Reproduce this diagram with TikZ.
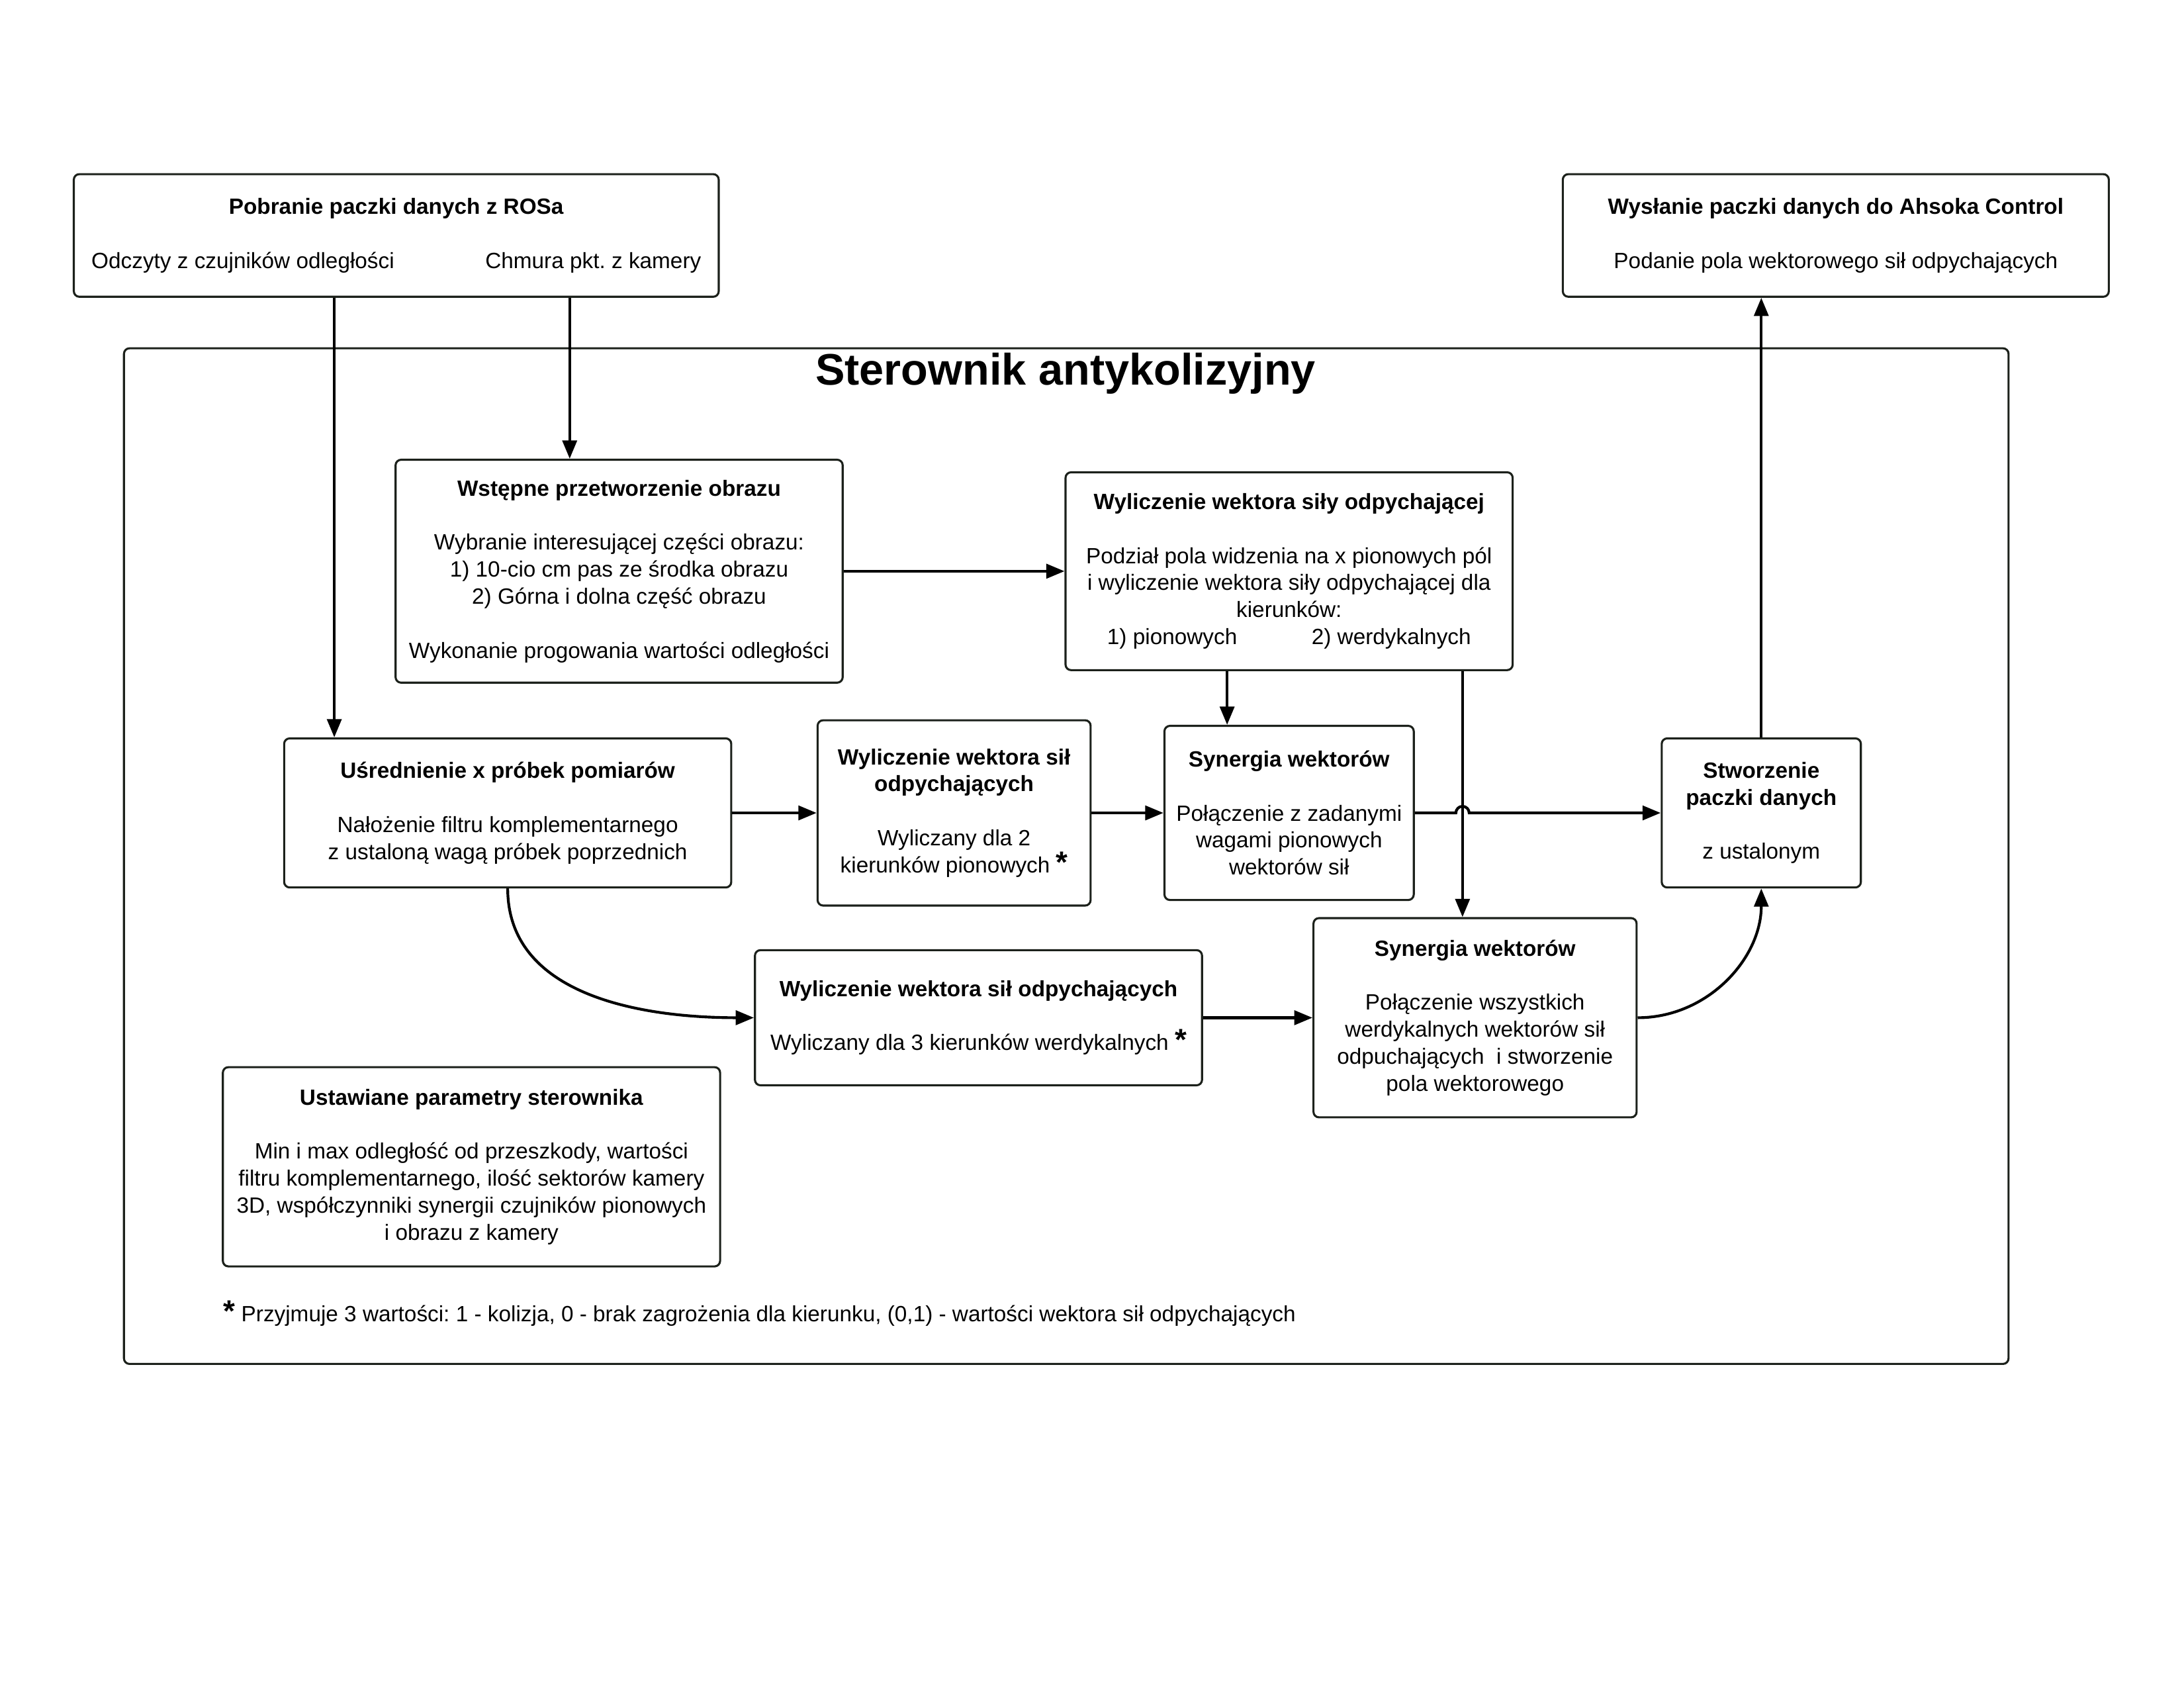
\documentclass[tikz,border=0pt]{standalone}
\usepackage{fontspec}
\setmainfont{Liberation Sans}
\usetikzlibrary{arrows.meta}
\frenchspacing
\newcommand\dpx{0.5051pt}
\newcommand\gw{{\bfseries\fontsize{11}{9}\selectfont *}}
\definecolor{ramkowy}{HTML}{1C211B}
\tikzset{
	blok/.style={draw=ramkowy,line width=0.75pt,rounded corners=2pt,align=center,inner sep=0pt,font=\fontsize{8}{9.8}\selectfont},
	wymiar/.style 2 args={minimum width=#1*\dpx,minimum height=#2*\dpx},
	strz/.style={line width=1pt,-{Triangle[length=6.6pt,width=5.2pt]}}
}
\begin{document}
\begin{tikzpicture}[x=\dpx,y=-\dpx]
				\useasboundingbox (0,0) rectangle (1568,1211.6);
				\coordinate (xa) at (240,0);
				\coordinate (xb) at (409,0);
				\coordinate (xc) at (881,0);
				\coordinate (xd) at (1050,0);

				\draw[draw=ramkowy,line width=0.75pt,rounded corners=2pt] (89,250) rectangle (1442,979);
				\node[font=\bfseries\fontsize{16}{19}\selectfont] (tytul) at (765,268) {Sterownik antykolizyjny};

				\node[blok,wymiar={463}{88}] (ros) at (284.5,169) {\textbf{Pobranie paczki danych z ROSa}\\[9.8pt]Odczyty z czujników odległości\hspace{33pt}Chmura pkt. z kamery};
				\node[blok,wymiar={392}{88}] (ahs) at (1318,169) {\textbf{Wysłanie paczki danych do Ahsoka Control}\\[9.8pt]Podanie pola wektorowego sił odpychających};
				\node[blok,wymiar={321}{160}] (wst) at (444.5,410) {\textbf{Wstępne przetworzenie obrazu}\\[9.8pt]Wybranie interesującej części obrazu:\\1) 10-cio cm pas ze środka obrazu\\2) Górna i dolna część obrazu\\[9.8pt]Wykonanie progowania wartości odległości};
				\node[blok,wymiar={321}{142}] (wyl) at (925.5,410) {\textbf{Wyliczenie wektora siły odpychającej}\\[9.8pt]Podział pola widzenia na x pionowych pól\\i wyliczenie wektora siły odpychającej dla\\kierunków:\\1) pionowych\hspace{27pt}2) werdykalnych};
				\node[blok,wymiar={321}{107}] (usr) at (364.5,583.5) {\textbf{Uśrednienie x próbek pomiarów}\\[9.8pt]Nałożenie filtru komplementarnego\\z ustaloną wagą próbek poprzednich};
				\node[blok,wymiar={196}{133}] (w2) at (685,583.5) {\textbf{Wyliczenie wektora sił}\\\textbf{odpychających}\\[9.8pt]Wyliczany dla 2\\kierunków pionowych \gw};
				\node[blok,wymiar={179}{125}] (syn1) at (925.5,583.5) {\textbf{Synergia wektorów}\\[9.8pt]Połączenie z zadanymi\\wagami pionowych\\wektorów sił};
				\node[blok,wymiar={143}{107}] (stw) at (1264.5,583.5) {\textbf{Stworzenie}\\\textbf{paczki danych}\\[9.8pt]z ustalonym};
				\node[blok,wymiar={321}{97}] (w3) at (702.5,730.5) {\textbf{Wyliczenie wektora sił odpychających}\\[9.8pt]Wyliczany dla 3 kierunków werdykalnych \gw};
				\node[blok,wymiar={232}{143}] (syn2) at (1059,730.5) {\textbf{Synergia wektorów}\\[9.8pt]Połączenie wszystkich\\werdykalnych wektorów sił\\odpuchających\ \ i stworzenie\\pola wektorowego};
				\node[blok,wymiar={357}{143}] (par) at (338.5,837.5) {\textbf{Ustawiane parametry sterownika}\\[9.8pt]Min i max odległość od przeszkody, wartości\\filtru komplementarnego, ilość sektorów kamery\\3D, współczynniki synergii czujników pionowych\\i obrazu z kamery};
				\node[anchor=west,inner sep=0pt,font=\fontsize{8}{9.8}\selectfont] (przypis) at (160,943) {\gw\ Przyjmuje 3 wartości: 1 - kolizja, 0 - brak zagrożenia dla kierunku, (0,1) - wartości wektora sił odpychających};

				\draw[strz] (ros.south -| xa) -- (usr.north -| xa);
				\draw[strz] (ros.south -| xb) -- (wst.north -| xb);
				\draw[strz] (wst.east) -- (wyl.west);
				\draw[strz] (wyl.south -| xc) -- (syn1.north -| xc);
				\draw[strz] (wyl.south -| xd) -- (syn2.north -| xd);
				\draw[strz] (usr.east) -- (w2.west);
				\draw[strz] (w2.east) -- (syn1.west);
				\draw[strz] (syn1.east) -- ([xshift=-2.4pt]syn1.east -| xd) arc[start angle=180,end angle=0,radius=2.4pt] -- (stw.west);
				\draw[strz] (usr.south) to[out=-90,in=180] (w3.west);
				\draw[strz] (w3.east) -- (syn2.west);
				\draw[strz] (syn2.east) to[out=0,in=-90] (stw.south);
				\draw[strz] (stw.north) -- (stw.north |- ahs.south);
			\end{tikzpicture}
\end{document}
